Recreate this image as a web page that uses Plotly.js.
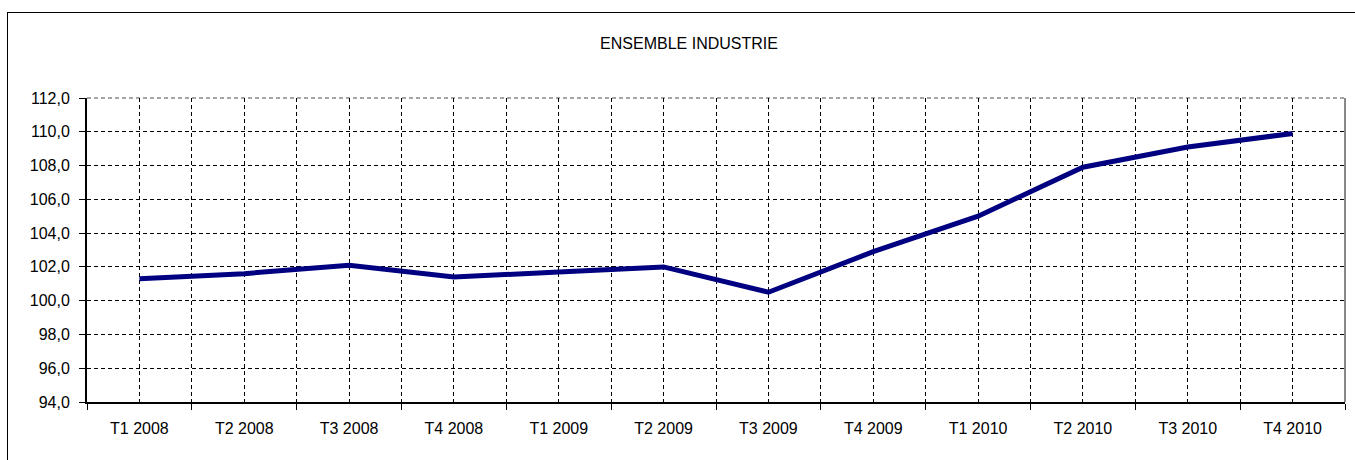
<!DOCTYPE html>
<html>
<head>
<meta charset="utf-8">
<script src="https://cdn.plot.ly/plotly-3.0.1.min.js"></script>
<style>
  html, body { margin: 0; padding: 0; width: 1355px; height: 460px; overflow: hidden; background: #fff; }
  #chart { position: absolute; left: 0; top: 0; width: 1355px; height: 460px; }
  #frame { position: absolute; left: 7px; top: 12px; width: 1400px; height: 500px; border: 1px solid #000; pointer-events: none; z-index: 5; }
</style>
</head>
<body>
<div id="chart"></div>
<div id="frame"></div>
<script>
const chartTitle = "ENSEMBLE INDUSTRIE";
const categories = ["T1 2008", "T2 2008", "T3 2008", "T4 2008", "T1 2009", "T2 2009",
                    "T3 2009", "T4 2009", "T1 2010", "T2 2010", "T3 2010", "T4 2010"];
const values = [101.3, 101.6, 102.1, 101.4, 101.7, 102.0, 100.5, 102.9, 105.0, 107.9, 109.1, 109.9];
const yRange = [94, 112];
const yStep = 2;

const positions = categories.map((_, i) => i);
const font = { family: "Liberation Sans, Arial, sans-serif", size: 16, color: "#000" };
const gridDash = "4px,3px";

const trace = {
  x: positions,
  y: values,
  type: "scatter",
  mode: "lines",
  line: { color: "#000080", width: 5 },
  hoverinfo: "skip"
};

const layout = {
  width: 1355,
  height: 460,
  margin: { l: 87, r: 10, t: 98, b: 58 },
  paper_bgcolor: "#fff",
  plot_bgcolor: "#fff",
  separators: ", ",
  font: font,
  showlegend: false,
  title: {
    text: chartTitle,
    font: { family: font.family, size: 16, color: "#000" },
    x: 0.5085, xref: "container", xanchor: "center",
    y: 1 - 43 / 460, yref: "container", yanchor: "middle"
  },
  xaxis: {
    range: [-0.5, categories.length - 0.5],
    tickmode: "array",
    tickvals: positions,
    ticktext: categories,
    ticks: "",
    ticklabelstandoff: 11,
    showgrid: true,
    gridcolor: "#000",
    gridwidth: 1,
    griddash: gridDash,
    showline: true,
    linecolor: "#000",
    linewidth: 2,
    zeroline: false,
    tickfont: font,
    minor: {
      tick0: -0.5,
      dtick: 1,
      ticks: "outside",
      ticklen: 6,
      tickcolor: "#000",
      tickwidth: 1,
      showgrid: true,
      gridcolor: "#000",
      gridwidth: 1,
      griddash: gridDash
    },
    fixedrange: true
  },
  yaxis: {
    range: yRange,
    dtick: yStep,
    tick0: yRange[0],
    tickformat: ".1f",
    ticks: "outside",
    ticklen: 6,
    tickcolor: "#000",
    tickwidth: 1,
    ticklabelstandoff: 6,
    showgrid: true,
    gridcolor: "#000",
    gridwidth: 1,
    griddash: gridDash,
    showline: true,
    linecolor: "#000",
    linewidth: 2,
    zeroline: false,
    tickfont: font,
    fixedrange: true
  },
  shapes: [
    { type: "line", xref: "paper", yref: "paper", x0: 1, x1: 1, y0: 0, y1: 1,
      line: { color: "#888", width: 2 }, layer: "between" },
    { type: "line", xref: "paper", yref: "paper", x0: 0, x1: 1, y0: 1, y1: 1,
      line: { color: "#888", width: 1.5, dash: gridDash }, layer: "between" }
  ]
};

Plotly.newPlot("chart", [trace], layout, { displayModeBar: false, staticPlot: true });
</script>
</body>
</html>
